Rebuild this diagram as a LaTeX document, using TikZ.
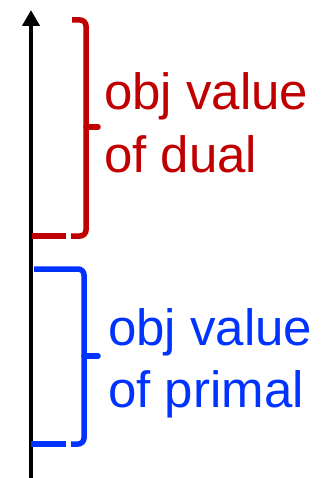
\documentclass[tikz,border=0pt]{standalone}
\usepackage{fontspec}
\setmainfont{Liberation Sans}
\usetikzlibrary{arrows.meta}
\definecolor{dualred}{RGB}{192,0,0}
\definecolor{primblue}{RGB}{0,51,255}
\begin{document}
\begin{tikzpicture}[x=1pt,y=-1pt,
  brace/.style={line width=5.5pt},
  lbl/.style={anchor=base west,inner sep=0pt,font=\fontsize{51}{60}\selectfont}]
\useasboundingbox (0,0) rectangle (324,478);
% axis
\coordinate (abot) at (31,478);
\coordinate (atop) at (31,10);
\draw[line width=4.3pt,-{Triangle[length=16pt,width=17pt]}] (abot) -- (atop);
% red brace
\coordinate (r1) at (32,236);
\coordinate (r2) at (66,236);
\coordinate (r3) at (71,236);
\coordinate (r4) at (86,236);
\coordinate (r5) at (86,20);
\coordinate (r6) at (72,20);
\coordinate (rm) at (86,127);
\coordinate (rt) at (98,127);
\draw[brace,dualred] (r1) -- (r2);
\draw[brace,dualred,rounded corners=6pt] (r3) -- (r4) -- (r5) -- (r6);
\draw[brace,dualred,line cap=round] (rm) -- (rt);
\node[lbl,text=dualred] (d1) at (104,110) {obj value};
\node[lbl,text=dualred] (d2) at (104,172) {of dual};
% blue brace
\coordinate (b1) at (34,269);
\coordinate (b2) at (84,269);
\coordinate (b3) at (84,444);
\coordinate (b4) at (71,444);
\coordinate (b5) at (66,444);
\coordinate (b6) at (31,444);
\coordinate (bm) at (84,356);
\coordinate (bt) at (98,356);
\draw[brace,primblue,rounded corners=6pt] (b1) -- (b2) -- (b3) -- (b4);
\draw[brace,primblue] (b5) -- (b6);
\draw[brace,primblue,line cap=round] (bm) -- (bt);
\node[lbl,text=primblue] (p1) at (108,345) {obj value};
\node[lbl,text=primblue] (p2) at (108,407) {of primal};
\end{tikzpicture}
\end{document}
